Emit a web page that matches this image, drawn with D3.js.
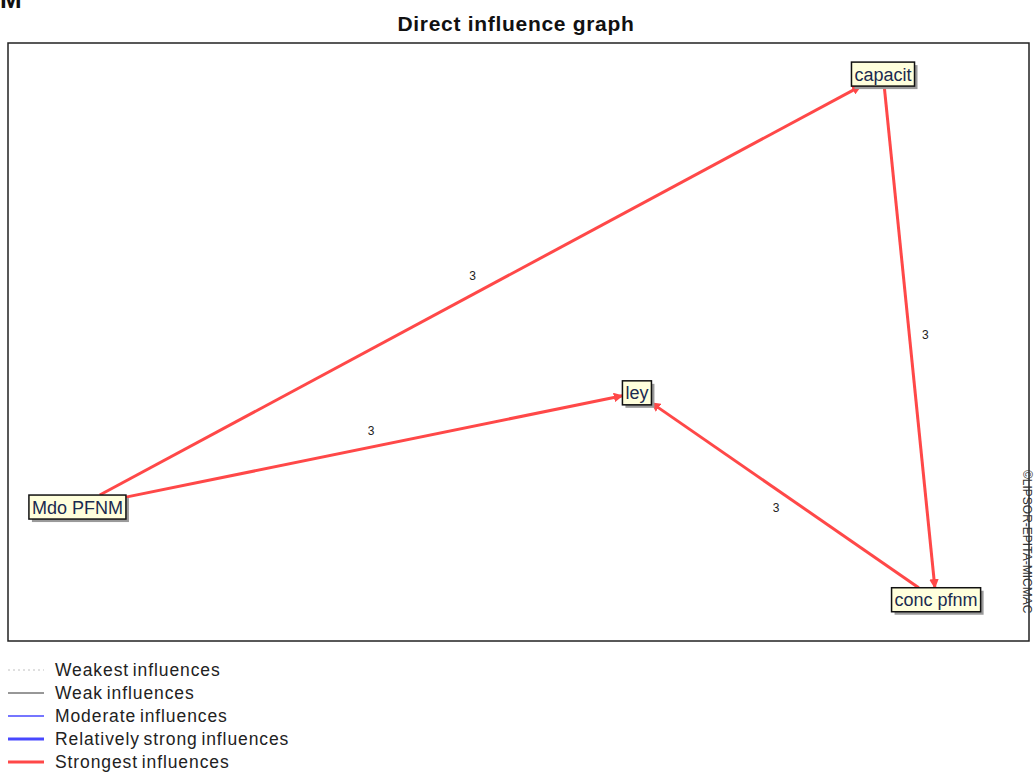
<!DOCTYPE html>
<html>
<head>
<meta charset="utf-8">
<script src="https://cdn.jsdelivr.net/npm/d3@7"></script>
<style>
  body { margin: 0; background: #fff; }
  svg text { font-family: "Liberation Sans", Arial, sans-serif; }
</style>
</head>
<body>
<div class="container"></div>
<script>
var width = 1034;
var height = 772;
var margin = {top: 43, right: 5, bottom: 131, left: 8};

// nodes (position in graph units, 0-100 both ways, y downwards)
var nodeNames = ["capacit", "ley", "Mdo PFNM", "conc pfnm"];
var nodeX = [85.7, 61.6, 6.8, 90.9];
var nodeY = [5.2, 58.5, 77.6, 93.1];

// edges: source -> target, influence value
var edgeSource = ["Mdo PFNM", "Mdo PFNM", "capacit", "conc pfnm"];
var edgeTarget = ["capacit", "ley", "conc pfnm", "ley"];
var edgeValue = [3, 3, 3, 3];

var legendLabels = ["Weakest influences", "Weak influences", "Moderate influences", "Relatively strong influences", "Strongest influences"];
var legendColors = ["#c0c0c0", "#303030", "#4848ff", "#4848ff", "#ff4848"];
var legendWidths = [1, 1, 1.3, 3, 3];
var legendDash = ["2,3", null, null, null, null];

var red = "#ff4848";
var box_h = 24;
var box_pad = 3;

var xScale = d3.scaleLinear().domain([0, 100]).range([margin.left, width - margin.right]);
var yScale = d3.scaleLinear().domain([0, 100]).range([margin.top, height - margin.bottom]);

var svg = d3.select(".container").append("svg")
  .attr("width", width).attr("height", height);

var defs = svg.append("defs");
defs.append("marker")
  .attr("id", "arrow")
  .attr("viewBox", "0 0 10 10")
  .attr("refX", 9).attr("refY", 5)
  .attr("markerWidth", 3.2).attr("markerHeight", 3.2)
  .attr("orient", "auto")
  .append("path").attr("d", "M0,0L10,5L0,10z").attr("fill", red);

// stray clipped glyph at the very top-left
svg.append("text").attr("x", 0).attr("y", 8)
  .attr("font-size", 26).attr("font-weight", "bold").attr("fill", "#111")
  .text("M");

// title
svg.append("text")
  .attr("x", 516).attr("y", 31)
  .attr("text-anchor", "middle")
  .attr("font-size", 21).attr("font-weight", "bold").attr("fill", "#111")
  .attr("letter-spacing", 0.7)
  .text("Direct influence graph");

// frame
svg.append("rect")
  .attr("x", xScale(0)).attr("y", yScale(0))
  .attr("width", xScale(100) - xScale(0)).attr("height", yScale(100) - yScale(0))
  .attr("fill", "none").attr("stroke", "#222").attr("stroke-width", 1.5);

// copyright on the right edge
svg.append("text")
  .attr("transform", "translate(1023,470) rotate(90)")
  .attr("font-size", 12).attr("fill", "#333")
  .text("©LIPSOR-EPITA-MICMAC");

///////////////////////////////////////////////////////////////
// nodes: measure labels first so boxes fit them
var nodes = nodeNames.map(function(n, i) {
  return {name: n, cx: xScale(nodeX[i]), cy: yScale(nodeY[i])};
});

var measure = svg.append("text").attr("font-size", 18);
nodes.forEach(function(d) {
  measure.text(d.name);
  d.w = measure.node().getComputedTextLength() + 2 * box_pad;
  d.h = box_h;
});
measure.remove();

function nodeByName(n) {
  return nodes.find(function(d) { return d.name == n; });
}

// point where the line from the centre leaves the box
function clip_to_box(d, tx, ty) {
  var dx = tx - d.cx, dy = ty - d.cy;
  var sx = dx == 0 ? Infinity : (d.w / 2) / Math.abs(dx);
  var sy = dy == 0 ? Infinity : (d.h / 2) / Math.abs(dy);
  var s = Math.min(sx, sy);
  return [d.cx + dx * s, d.cy + dy * s];
}

var edges = edgeSource.map(function(s, i) {
  var a = nodeByName(s), b = nodeByName(edgeTarget[i]);
  var p0 = clip_to_box(a, b.cx, b.cy);
  var p1 = clip_to_box(b, a.cx, a.cy);
  return {p0: p0, p1: p1, value: edgeValue[i]};
});

var edgeG = svg.append("g").attr("class", "edges");
edgeG.selectAll("line")
  .data(edges).enter().append("line")
  .attr("x1", function(d) { return d.p0[0]; })
  .attr("y1", function(d) { return d.p0[1]; })
  .attr("x2", function(d) { return d.p1[0]; })
  .attr("y2", function(d) { return d.p1[1]; })
  .attr("stroke", red).attr("stroke-width", 3)
  .attr("marker-end", "url(#arrow)");

edgeG.selectAll("text")
  .data(edges).enter().append("text")
  .attr("x", function(d) {
    var dx = d.p1[0] - d.p0[0], dy = d.p1[1] - d.p0[1], l = Math.hypot(dx, dy);
    return (d.p0[0] + d.p1[0]) / 2 + dy / l * 16;
  })
  .attr("y", function(d) {
    var dx = d.p1[0] - d.p0[0], dy = d.p1[1] - d.p0[1], l = Math.hypot(dx, dy);
    return (d.p0[1] + d.p1[1]) / 2 - dx / l * 16 + 4;
  })
  .attr("text-anchor", "middle")
  .attr("font-size", 12).attr("fill", "#222")
  .text(function(d) { return d.value; });

var nodeG = svg.append("g").attr("class", "nodes")
  .selectAll("g").data(nodes).enter().append("g");

nodeG.append("rect")
  .attr("x", function(d) { return d.cx - d.w / 2 + 3; })
  .attr("y", function(d) { return d.cy - d.h / 2 + 3; })
  .attr("width", function(d) { return d.w; })
  .attr("height", function(d) { return d.h; })
  .attr("fill", "#9a9a9a");

nodeG.append("rect")
  .attr("x", function(d) { return d.cx - d.w / 2; })
  .attr("y", function(d) { return d.cy - d.h / 2; })
  .attr("width", function(d) { return d.w; })
  .attr("height", function(d) { return d.h; })
  .attr("fill", "#ffffdc").attr("stroke", "#111").attr("stroke-width", 1.5);

nodeG.append("text")
  .attr("x", function(d) { return d.cx; })
  .attr("y", function(d) { return d.cy + 6.5; })
  .attr("text-anchor", "middle")
  .attr("font-size", 18).attr("fill", "#1a2a50")
  .text(function(d) { return d.name; });

///////////////////////////////////////////////////////////////
// legend
var legend = svg.append("g").attr("class", "legend")
  .selectAll("g").data(legendLabels).enter().append("g")
  .attr("transform", function(d, i) { return "translate(0," + (670 + i * 23) + ")"; });

legend.append("line")
  .attr("x1", 8).attr("x2", 44).attr("y1", 0).attr("y2", 0)
  .attr("stroke", function(d, i) { return legendColors[i]; })
  .attr("stroke-width", function(d, i) { return legendWidths[i]; })
  .attr("stroke-dasharray", function(d, i) { return legendDash[i]; });

legend.append("text")
  .attr("x", 55).attr("y", 6)
  .attr("font-size", 17.5).attr("fill", "#222")
  .attr("letter-spacing", 0.9).attr("word-spacing", -2)
  .text(function(d) { return d; });
</script>
</body>
</html>
